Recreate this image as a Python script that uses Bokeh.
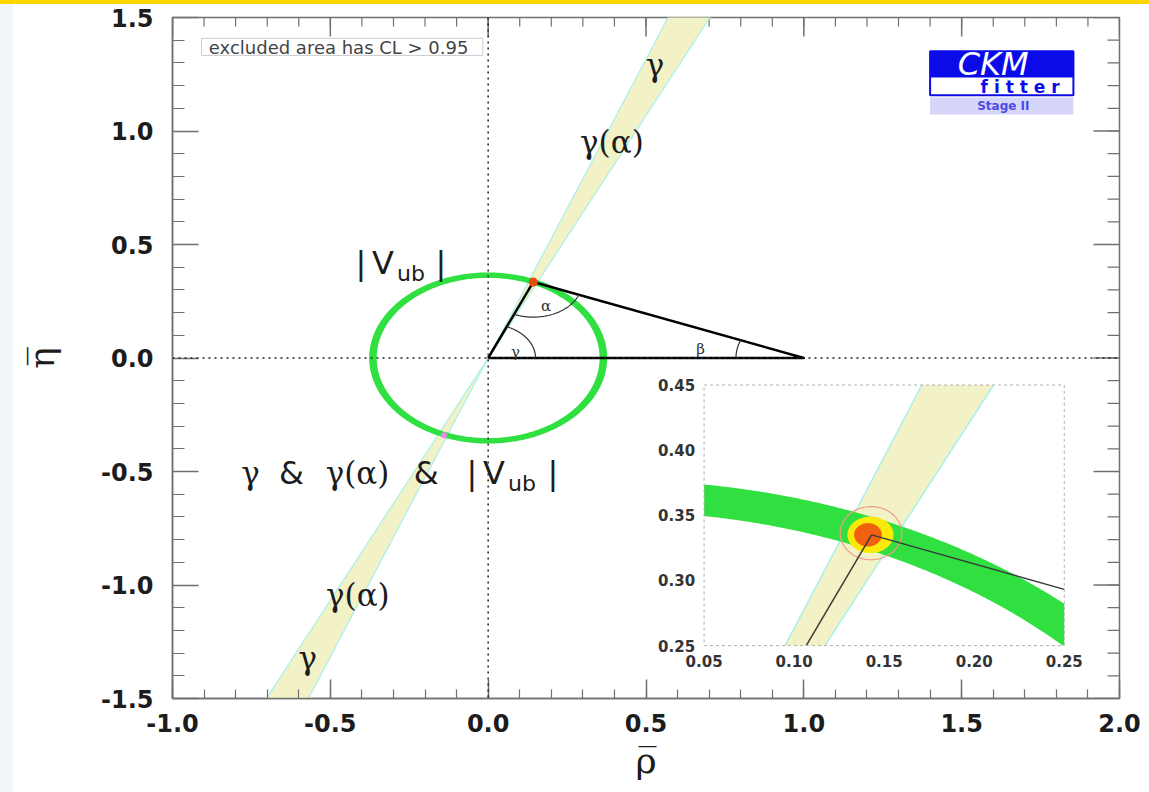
import numpy as np
from bokeh.plotting import figure
from bokeh.models import Range1d, FixedTicker, Span, Div
from bokeh.layouts import column, row
from bokeh.core.properties import value
from bokeh.embed import file_html
from bokeh.resources import INLINE

# ---------------- data ----------------
x_ticks = [-1.0, -0.5, 0.0, 0.5, 1.0, 1.5, 2.0]
x_tick_labels = ["-1.0", "-0.5", "0.0", "0.5", "1.0", "1.5", "2.0"]
y_ticks = [-1.5, -1.0, -0.5, 0.0, 0.5, 1.0, 1.5]
y_tick_labels = ["-1.5", "-1.0", "-0.5", "0.0", "0.5", "1.0", "1.5"]
x_minor_ticks = [round(-1.0 + 0.1 * i, 1) for i in range(31)]
y_minor_ticks = [round(-1.5 + 0.1 * i, 1) for i in range(31)]

# unitarity triangle (0,0) - best fit apex - (1,0)
triangle_rho = [0.0, 0.143, 1.0, 0.0]
triangle_eta = [0.0, 0.335, 0.0, 0.0]
apex_rho = [0.143]
apex_eta = [0.335]

gamma_band_deg = [64.9, 69.2]        # edges of the gamma wedge
vub_ring_radius = [0.353, 0.377]     # inner / outer radius of the |Vub| ring
angle_arc_radius = {"gamma": 0.15, "alpha": 0.155, "beta": 0.215}

# CL contours around the best fit: centre rho, centre eta, half width, half height
cl_rho = [0.1427, 0.1424, 0.1410]
cl_eta = [0.3363, 0.3350, 0.3350]
cl_hw = [0.0171, 0.0128, 0.0077]
cl_hh = [0.0204, 0.0140, 0.0090]

lower_cross_rho = [-0.14]
lower_cross_eta = [-0.34]

inset_x_ticks = [0.05, 0.10, 0.15, 0.20, 0.25]
inset_x_tick_labels = ["0.05", "0.10", "0.15", "0.20", "0.25"]
inset_y_ticks = [0.25, 0.30, 0.35, 0.40, 0.45]
inset_y_tick_labels = ["0.25", "0.30", "0.35", "0.40", "0.45"]

# ---------------- styles ----------------
BAND = "#f2f2c6"
CYAN = "#a8f0ec"
GREEN = "#30e040"
TXT = "#1c1c1c"
FRAME = "#707070"

X_RANGE = (-1.0, 2.0)
Y_RANGE = (-1.5, 1.5)
INSET_X = (0.05, 0.25)
INSET_Y = (0.25, 0.45)
INSET_BOX = dict(left=0.684, right=1.825, bottom=-1.267, top=-0.119)  # in main coords


def clip_poly(xs, ys, xmin, xmax, ymin, ymax):
    pts = list(zip(xs, ys))

    def clip(pts, inside, inter):
        out = []
        n = len(pts)
        for i in range(n):
            cur, prev = pts[i], pts[i - 1]
            if inside(cur):
                if not inside(prev):
                    out.append(inter(prev, cur))
                out.append(cur)
            elif inside(prev):
                out.append(inter(prev, cur))
        return out

    def ixx(p, q, xv):
        t = (xv - p[0]) / (q[0] - p[0])
        return (xv, p[1] + t * (q[1] - p[1]))

    def iyy(p, q, yv):
        t = (yv - p[1]) / (q[1] - p[1])
        return (p[0] + t * (q[0] - p[0]), yv)

    for inside, inter in (
        (lambda p: p[0] >= xmin, lambda p, q: ixx(p, q, xmin)),
        (lambda p: p[0] <= xmax, lambda p, q: ixx(p, q, xmax)),
        (lambda p: p[1] >= ymin, lambda p, q: iyy(p, q, ymin)),
        (lambda p: p[1] <= ymax, lambda p, q: iyy(p, q, ymax)),
    ):
        if not pts:
            break
        pts = clip(pts, inside, inter)
    return [a for a, _ in pts], [b for _, b in pts]


def clip_seg(x0, y0, x1, y1, xmin, xmax, ymin, ymax):
    dx, dy = x1 - x0, y1 - y0
    t0, t1 = 0.0, 1.0
    for pp, qq in ((-dx, x0 - xmin), (dx, xmax - x0), (-dy, y0 - ymin), (dy, ymax - y0)):
        if pp == 0:
            if qq < 0:
                return None
        else:
            t = qq / pp
            if pp < 0:
                t0 = max(t0, t)
            else:
                t1 = min(t1, t)
    if t0 > t1:
        return None
    return [x0 + t0 * dx, x0 + t1 * dx], [y0 + t0 * dy, y0 + t1 * dy]


def arc(cx, cy, r, a0, a1, n=80):
    t = np.linspace(a0, a1, n)
    return list(cx + r * np.cos(t)), list(cy + r * np.sin(t))


# ---------------- figure ----------------
p = figure(width=1136, height=788, x_range=Range1d(*X_RANGE), y_range=Range1d(*Y_RANGE),
           output_backend="svg", toolbar_location=None, title=None,
           min_border_left=159, min_border_right=30, min_border_top=13, min_border_bottom=94)
p.grid.visible = False
p.background_fill_color = "white"
p.border_fill_color = "white"
p.outline_line_color = FRAME
p.outline_line_width = 1.5

bottom_axis = p.below[0]
left_axis = p.left[0]


def style_axis(ax, ticks, minor, labels, tick_len, minor_len):
    ax.ticker = FixedTicker(ticks=ticks, minor_ticks=minor)
    ax.major_label_overrides = dict(zip(ticks, labels))
    ax.major_tick_in = tick_len
    ax.major_tick_out = 0
    ax.minor_tick_in = minor_len
    ax.minor_tick_out = 0
    ax.axis_line_color = FRAME
    ax.axis_line_width = 1.5
    ax.major_tick_line_color = FRAME
    ax.major_tick_line_width = 1.5
    ax.minor_tick_line_color = FRAME
    ax.minor_tick_line_width = 1.2
    ax.major_label_text_font = "DejaVu Sans"
    ax.major_label_text_font_style = "bold"
    ax.major_label_text_font_size = "24px"
    ax.major_label_text_color = TXT


style_axis(bottom_axis, x_ticks, x_minor_ticks, x_tick_labels, 19, 9)
style_axis(left_axis, y_ticks, y_minor_ticks, y_tick_labels, 26, 12)
bottom_axis.major_label_standoff = 15
left_axis.major_label_standoff = 19

bottom_axis.axis_label = "\u03c1\u0305"
left_axis.axis_label = "\u03b7\u0305"
for ax, so in ((bottom_axis, 5), (left_axis, 36)):
    ax.axis_label_text_font = "DejaVu Serif"
    ax.axis_label_text_font_size = "36px"
    ax.axis_label_text_font_style = "normal"
    ax.axis_label_text_color = TXT
    ax.axis_label_standoff = so

# tick marks on the top and right frame edges (inward)
p.ray(x=x_minor_ticks, y=[Y_RANGE[1]] * len(x_minor_ticks), length=9, length_units="screen",
      angle=-np.pi / 2, line_color=FRAME, line_width=1.2)
p.ray(x=x_ticks, y=[Y_RANGE[1]] * len(x_ticks), length=19, length_units="screen",
      angle=-np.pi / 2, line_color=FRAME, line_width=1.5)
p.ray(x=[X_RANGE[1]] * len(y_minor_ticks), y=y_minor_ticks, length=12, length_units="screen",
      angle=np.pi, line_color=FRAME, line_width=1.2)
p.ray(x=[X_RANGE[1]] * len(y_ticks), y=y_ticks, length=26, length_units="screen",
      angle=np.pi, line_color=FRAME, line_width=1.5)

# dotted axes
p.add_layout(Span(location=0, dimension="height", line_color="#222222", line_dash="2 4", line_width=1.5))
p.add_layout(Span(location=0, dimension="width", line_color="#222222", line_dash="2 4", line_width=1.5))

# ---------------- main panel ----------------
a_lo, a_hi = np.radians(gamma_band_deg)
L = 4.0
band_xs = [[0, L * np.cos(a_lo), L * np.cos(a_hi)], [0, -L * np.cos(a_lo), -L * np.cos(a_hi)]]
band_ys = [[0, L * np.sin(a_lo), L * np.sin(a_hi)], [0, -L * np.sin(a_lo), -L * np.sin(a_hi)]]
p.patches(band_xs, band_ys, fill_color=BAND, line_color=None)
p.multi_line([[-L * np.cos(a), L * np.cos(a)] for a in (a_lo, a_hi)],
             [[-L * np.sin(a), L * np.sin(a)] for a in (a_lo, a_hi)],
             line_color=CYAN, line_width=1.2)

t = np.linspace(0, 2 * np.pi, 400)
r_in, r_out = vub_ring_radius
p.multi_polygons(xs=[[[list(r_out * np.cos(t)), list(r_in * np.cos(t))]]],
                 ys=[[[list(r_out * np.sin(t)), list(r_in * np.sin(t))]]],
                 fill_color=GREEN, line_color=None)

p.line(triangle_rho, triangle_eta, line_color="black", line_width=2.5, line_join="round")

ar, ae = apex_rho[0], apex_eta[0]
a_gamma = np.arctan2(ae, ar)
a_to_b = np.arctan2(-ae, 1 - ar)
arcs = [
    arc(0, 0, angle_arc_radius["gamma"], 0, a_gamma),
    arc(ar, ae, angle_arc_radius["alpha"], a_gamma + np.pi, a_to_b + 2 * np.pi),
    arc(1, 0, angle_arc_radius["beta"], np.pi + a_to_b, np.pi),
]
p.multi_line([a[0] for a in arcs], [a[1] for a in arcs], line_color="#333333", line_width=1.2)

p.scatter(apex_rho, apex_eta, size=9, fill_color="#ec4a14", line_color=None)
p.scatter(lower_cross_rho, lower_cross_eta, size=6, fill_color="#e58ce8", line_color=None)

# small angle labels
p.text(x=[0.0862, 0.1832, 0.673], y=[0.0255, 0.227, 0.0405], text=["\u03b3", "\u03b1", "\u03b2"],
       text_font=value("DejaVu Serif"), text_font_size="15px", text_color="#333333",
       text_align="center", text_baseline="middle")

# greek band labels
p.text(x=[0.5287, 0.392, -0.4127, -0.5712, -0.753, -0.414],
       y=[1.289, 0.950, -1.0427, -1.3198, -0.506, -0.506],
       text=["\u03b3", "\u03b3(\u03b1)", "\u03b3(\u03b1)", "\u03b3", "\u03b3", "\u03b3(\u03b1)"],
       text_font=value("DejaVu Serif"), text_font_size="31px", text_color=TXT,
       text_align="center", text_baseline="alphabetic")
p.text(x=[-0.403, -0.3334, -0.1496, -0.623, -0.196, -0.0513, 0.0184, 0.2054],
       y=[0.418, 0.418, 0.418, -0.506, -0.506, -0.506, -0.506, -0.506],
       text=["|", "V", "|", "&", "&", "|", "V", "|"],
       text_font=value("DejaVu Sans"), text_font_size="32px", text_color=TXT,
       text_align="center", text_baseline="alphabetic")
p.text(x=[-0.2447, 0.1071], y=[0.372, -0.552], text=["ub", "ub"],
       text_font=value("DejaVu Sans"), text_font_size="22px", text_color=TXT,
       text_align="center", text_baseline="alphabetic")

# excluded-area note
p.quad(left=[-0.908], right=[-0.017], bottom=[1.333], top=[1.408], fill_color="white",
       line_color="#cccccc", line_width=1)
p.text(x=[-0.885], y=[1.370], text=["excluded area has CL > 0.95"],
       text_font=value("DejaVu Sans"), text_font_size="18px", text_color="#444444",
       text_align="left", text_baseline="middle")

# CKMfitter logo
p.quad(left=[1.400], right=[1.854], bottom=[1.236], top=[1.351], fill_color="#0b0bea", line_color=None)
p.quad(left=[1.400], right=[1.854], bottom=[1.157], top=[1.351], fill_color=None,
       line_color="#0b0bea", line_width=2)
p.quad(left=[1.400], right=[1.854], bottom=[1.073], top=[1.148], fill_color="#d6d6fb", line_color=None)
p.text(x=[1.60], y=[1.294], text=["CKM"], text_font=value("DejaVu Sans"), text_font_size="32px",
       text_font_style="italic", text_color="white", text_align="center", text_baseline="middle")
p.text(x=[1.685], y=[1.193], text=["f i t t e r"], text_font=value("DejaVu Sans"),
       text_font_size="17px", text_font_style="bold", text_color="#0b0bea",
       text_align="center", text_baseline="middle")
p.text(x=[1.632], y=[1.110], text=["Stage II"], text_font=value("DejaVu Sans"),
       text_font_size="12px", text_font_style="bold", text_color="#4a4ae6",
       text_align="center", text_baseline="middle")

# ---------------- inset (zoom on the apex) ----------------
sx = (INSET_X[1] - INSET_X[0]) / (INSET_BOX["right"] - INSET_BOX["left"])
sy = (INSET_Y[1] - INSET_Y[0]) / (INSET_BOX["top"] - INSET_BOX["bottom"])
p.extra_x_ranges = {"ix": Range1d(INSET_X[0] + (X_RANGE[0] - INSET_BOX["left"]) * sx,
                                  INSET_X[0] + (X_RANGE[1] - INSET_BOX["left"]) * sx)}
p.extra_y_ranges = {"iy": Range1d(INSET_Y[0] + (Y_RANGE[0] - INSET_BOX["bottom"]) * sy,
                                  INSET_Y[0] + (Y_RANGE[1] - INSET_BOX["bottom"]) * sy)}
kw = dict(x_range_name="ix", y_range_name="iy")
box = (INSET_X[0], INSET_X[1], INSET_Y[0], INSET_Y[1])

p.quad(left=[INSET_X[0]], right=[INSET_X[1]], bottom=[INSET_Y[0]], top=[INSET_Y[1]],
       fill_color="white", line_color=None, **kw)

bx, by = clip_poly([0, np.cos(a_lo), np.cos(a_hi)], [0, np.sin(a_lo), np.sin(a_hi)], *box)
p.patch(bx, by, fill_color=BAND, line_color=None, **kw)
edges = [clip_seg(0, 0, np.cos(a), np.sin(a), *box) for a in (a_lo, a_hi)]
edges = [e for e in edges if e is not None]
p.multi_line([e[0] for e in edges], [e[1] for e in edges], line_color=CYAN, line_width=1.5, **kw)

tr = np.linspace(np.radians(30), np.radians(100), 300)
rx = list(r_out * np.cos(tr)) + list(r_in * np.cos(tr[::-1]))
ry = list(r_out * np.sin(tr)) + list(r_in * np.sin(tr[::-1]))
gx, gy = clip_poly(rx, ry, *box)
p.patch(gx, gy, fill_color=GREEN, line_color=None, **kw)

tt = np.linspace(0, 2 * np.pi, 120)
ell = [(list(cx + hw * np.cos(tt)), list(cy + hh * np.sin(tt)))
       for cx, cy, hw, hh in zip(cl_rho, cl_eta, cl_hw, cl_hh)]
p.line(ell[0][0], ell[0][1], line_color="#f09c88", line_width=1.2, **kw)
p.patch(ell[1][0], ell[1][1], fill_color="#fbe90a", line_color=None, **kw)
p.patch(ell[2][0], ell[2][1], fill_color="#f0600f", line_color=None, **kw)

segs = [clip_seg(triangle_rho[i], triangle_eta[i], triangle_rho[i + 1], triangle_eta[i + 1], *box)
        for i in range(2)]
segs = [s for s in segs if s is not None]
p.multi_line([s[0] for s in segs], [s[1] for s in segs], line_color="#3a3a3a", line_width=1.5, **kw)

p.quad(left=[INSET_X[0]], right=[INSET_X[1]], bottom=[INSET_Y[0]], top=[INSET_Y[1]],
       fill_color=None, line_color="#b0b0b0", line_dash="3 3", line_width=1, **kw)

p.text(x=inset_x_ticks, y=[INSET_Y[0] - 0.0115] * len(inset_x_ticks), text=inset_x_tick_labels,
       text_font=value("DejaVu Sans"), text_font_size="15px", text_font_style="bold",
       text_color="#333333", text_align="center", text_baseline="middle", **kw)
p.text(x=[INSET_X[0] - 0.005] * len(inset_y_ticks), y=inset_y_ticks, text=inset_y_tick_labels,
       text_font=value("DejaVu Sans"), text_font_size="15px", text_font_style="bold",
       text_color="#333333", text_align="right", text_baseline="middle", **kw)

bar = Div(text="", width=1149, height=4, margin=0, styles={"background-color": "#ffd500"})
strip = Div(text="", width=13, height=788, margin=0, styles={"background-color": "#f1f6fa"})
layout = column(bar, row(strip, p, spacing=0), spacing=0)

open("out.html", "w").write(file_html(layout, INLINE))
